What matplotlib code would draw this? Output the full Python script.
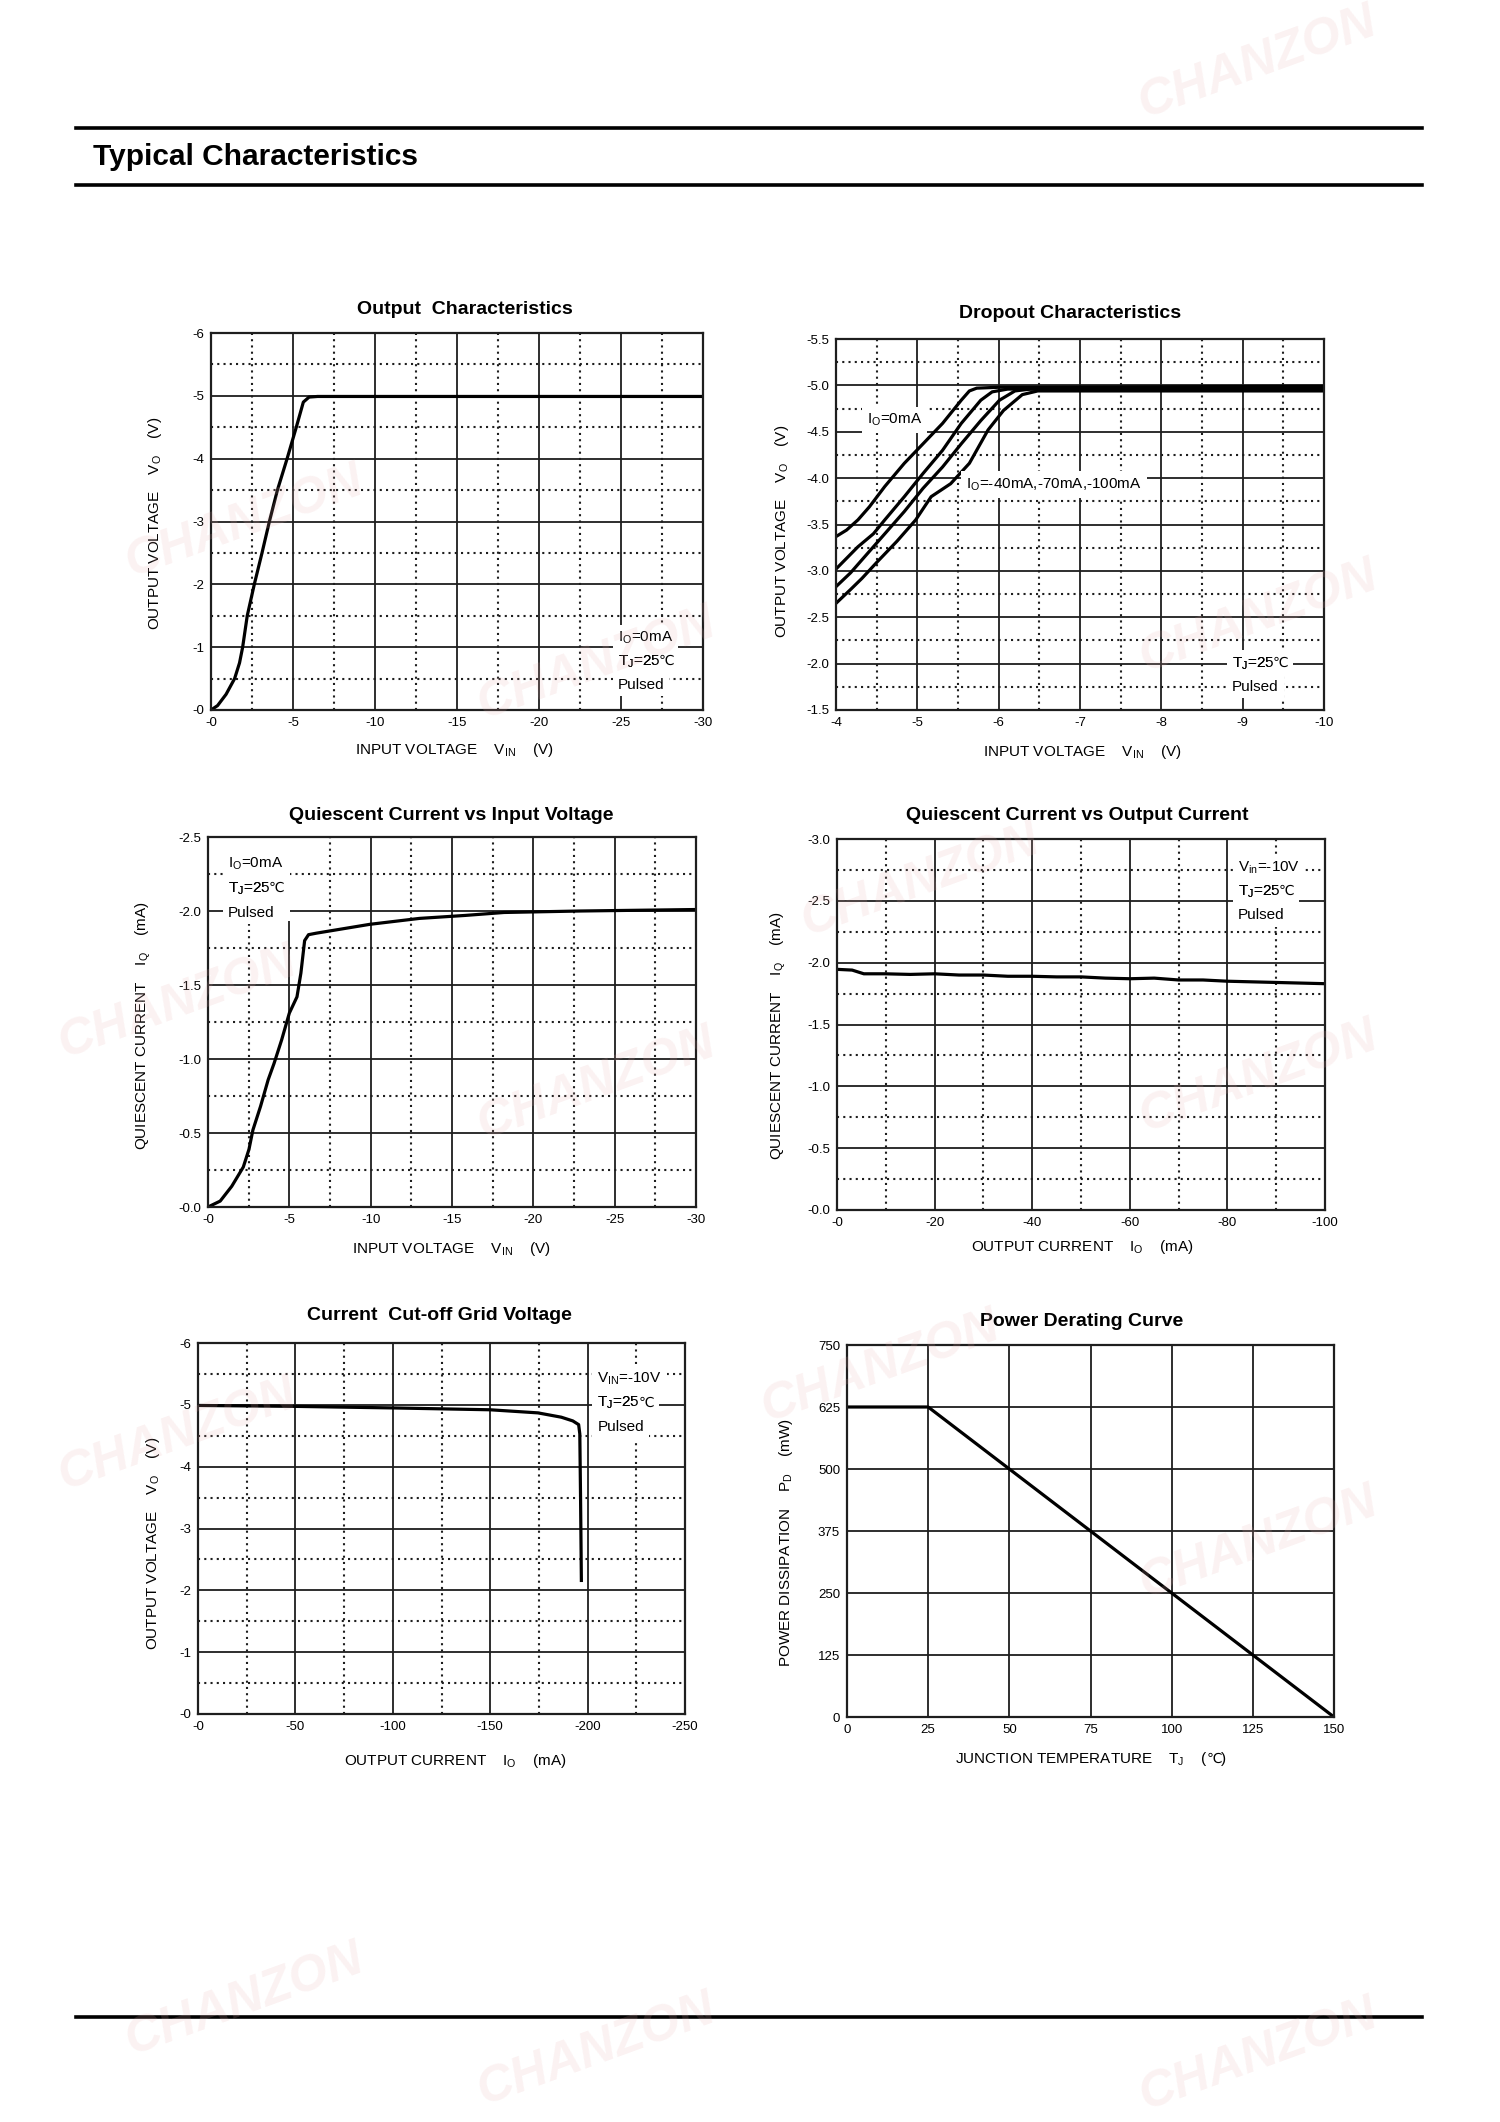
import matplotlib
matplotlib.use('Agg')
import matplotlib.pyplot as plt
from matplotlib.patches import Rectangle
from matplotlib.ticker import FixedLocator

# fonts: Arial-like text, DejaVu for the degree-Celsius sign
plt.rcParams['font.family'] = ['Liberation Sans', 'DejaVu Sans']
plt.rcParams['mathtext.fontset'] = 'custom'
plt.rcParams['mathtext.rm'] = 'Liberation Sans'
plt.rcParams['mathtext.it'] = 'Liberation Sans'
plt.rcParams['axes.unicode_minus'] = False

W, H = 1500, 2122

# ---------------- data ----------------
# Output Characteristics (Io = 0mA)
out_vin = [0, -0.4, -0.92, -1.44, -1.74, -1.93, -2.21, -2.64, -3.11, -3.56,
           -4.05, -4.64, -5.2, -5.63, -5.98, -6.5, -30]
out_vo = [0, -0.07, -0.25, -0.5, -0.75, -1.0, -1.5, -2.0, -2.5, -3.0,
          -3.5, -4.0, -4.5, -4.9, -4.98, -4.99, -4.99]

# Dropout Characteristics, four load currents
drop_vin_0 = [-4, -4.13, -4.27, -4.41, -4.6, -4.84, -5.07, -5.31, -5.54, -5.64, -5.73, -6.01, -10]
drop_vo_0 = [-3.37, -3.44, -3.55, -3.69, -3.91, -4.16, -4.37, -4.59, -4.84, -4.94, -4.97, -4.98, -4.99]
drop_vin_40 = [-4, -4.27, -4.46, -4.6, -4.84, -5.07, -5.31, -5.54, -5.78, -5.92, -6.11, -10]
drop_vo_40 = [-3.02, -3.26, -3.4, -3.55, -3.8, -4.05, -4.3, -4.59, -4.84, -4.93, -4.96, -4.97]
drop_vin_70 = [-4, -4.18, -4.37, -4.6, -4.84, -5.07, -5.31, -5.54, -5.78, -6.01, -6.2, -6.39, -10]
drop_vo_70 = [-2.83, -2.98, -3.17, -3.4, -3.64, -3.89, -4.12, -4.37, -4.62, -4.84, -4.94, -4.96, -4.96]
drop_vin_100 = [-4, -4.18, -4.32, -4.51, -4.75, -4.98, -5.17, -5.41, -5.64, -5.87, -6.06, -6.29, -6.48, -10]
drop_vo_100 = [-2.65, -2.8, -2.92, -3.1, -3.32, -3.55, -3.8, -3.94, -4.16, -4.52, -4.73, -4.9, -4.94, -4.94]

# Quiescent Current vs Input Voltage
qi_vin = [0, -0.75, -1.46, -2.17, -2.52, -2.76, -3.23, -3.7, -4.06, -4.53, -5.0,
          -5.47, -5.71, -5.94, -6.18, -6.65, -9.95, -13.0, -15.8, -18.2, -22.9, -30]
qi_iq = [0, -0.04, -0.14, -0.27, -0.39, -0.52, -0.68, -0.86, -0.97, -1.13, -1.31,
         -1.42, -1.58, -1.8, -1.84, -1.85, -1.91, -1.95, -1.97, -1.99, -2.0, -2.01]

# Quiescent Current vs Output Current
qo_io = [0, -3.1, -5.5, -9.8, -15, -20, -25, -30, -35, -40, -45, -50, -55, -60,
         -65, -70, -75, -80, -85, -90, -95, -100]
qo_iq = [-1.946, -1.94, -1.91, -1.91, -1.905, -1.91, -1.9, -1.9, -1.89, -1.89, -1.885, -1.885,
         -1.875, -1.87, -1.875, -1.86, -1.86, -1.85, -1.845, -1.84, -1.835, -1.83]

# Current Cut-off Grid Voltage
co_io = [0, -50, -100, -150, -174.5, -186.5, -192.4, -195.4, -196, -196.4, -196.8]
co_vo = [-4.99, -4.975, -4.95, -4.92, -4.87, -4.8, -4.74, -4.68, -4.53, -3.45, -2.16]

# Power Derating Curve
pd_tj = [0, 25, 150]
pd_mw = [625, 625, 0]

# tick labels
vin30_ticks = [0, -5, -10, -15, -20, -25, -30]
vin30_labels = ['-0', '-5', '-10', '-15', '-20', '-25', '-30']
vo6_ticks = [0, -1, -2, -3, -4, -5, -6]
vo6_labels = ['-0', '-1', '-2', '-3', '-4', '-5', '-6']
drop_x_ticks = [-4, -5, -6, -7, -8, -9, -10]
drop_x_labels = ['-4', '-5', '-6', '-7', '-8', '-9', '-10']
drop_y_ticks = [-1.5, -2.0, -2.5, -3.0, -3.5, -4.0, -4.5, -5.0, -5.5]
drop_y_labels = ['-1.5', '-2.0', '-2.5', '-3.0', '-3.5', '-4.0', '-4.5', '-5.0', '-5.5']
iq25_ticks = [0, -0.5, -1.0, -1.5, -2.0, -2.5]
iq25_labels = ['-0.0', '-0.5', '-1.0', '-1.5', '-2.0', '-2.5']
iq30_ticks = [0, -0.5, -1.0, -1.5, -2.0, -2.5, -3.0]
iq30_labels = ['-0.0', '-0.5', '-1.0', '-1.5', '-2.0', '-2.5', '-3.0']
io100_ticks = [0, -20, -40, -60, -80, -100]
io100_labels = ['-0', '-20', '-40', '-60', '-80', '-100']
io250_ticks = [0, -50, -100, -150, -200, -250]
io250_labels = ['-0', '-50', '-100', '-150', '-200', '-250']
tj_ticks = [0, 25, 50, 75, 100, 125, 150]
pd_ticks = [0, 125, 250, 375, 500, 625, 750]

DEG = '\u2103'
WHITE = dict(facecolor='white', edgecolor='none', pad=3.5)


def fx(x):
    return x / W


def fy(y):
    return 1 - y / H


def make_panel(box, xticks, xlabels, yticks, ylabels, xminor, yminor):
    l, r, t, b = box
    ax = fig.add_axes([fx(l), fy(b), (r - l) / W, (b - t) / H])
    ax.set_xlim(xticks[0], xticks[-1])
    ax.set_ylim(yticks[0], yticks[-1])
    ax.xaxis.set_major_locator(FixedLocator(xticks))
    ax.yaxis.set_major_locator(FixedLocator(yticks))
    ax.set_xticklabels(xlabels)
    ax.set_yticklabels(ylabels)
    ax.grid(which='major', color='#1e1e1e', lw=1.3)
    if xminor:
        ax.xaxis.set_minor_locator(FixedLocator(xminor))
        ax.yaxis.set_minor_locator(FixedLocator(yminor))
        ax.grid(which='minor', color='#1e1e1e', lw=1.5, ls=(0, (1, 2.0)))
    ax.tick_params(which='both', length=0, labelsize=9.5, pad=5)
    for s in ax.spines.values():
        s.set_linewidth(1.6)
        s.set_color('#1e1e1e')
    ax.set_axisbelow(True)
    return ax


def note(ax, x, y, lines, dy):
    # stacked annotation lines on a white background; a trailing degree sign
    # is drawn as its own piece in DejaVu Sans
    for i, s in enumerate(lines):
        yy = y + i * dy
        tail = s.endswith(DEG)
        txt = s[:-1] if tail else s
        kw = dict(xy=(x, yy), xytext=(0, -4), textcoords='offset points',
                  fontsize=11, ha='left', va='baseline')
        t = ax.annotate(txt, zorder=4.8, bbox=WHITE, **kw)
        if tail:
            ax.annotate(DEG, xy=(1, yy), xycoords=(t, 'data'), xytext=(-1.2, -4),
                        textcoords='offset points', fontsize=10, family='DejaVu Sans',
                        ha='left', va='baseline', zorder=4.9, bbox=WHITE)
            # redraw the main glyphs above the degree sign's white box
            ax.annotate(txt, zorder=5, **kw)


def halves(ticks):
    return [(a + b) / 2 for a, b in zip(ticks[:-1], ticks[1:])]


fig = plt.figure(figsize=(15, 21.22), dpi=100)

# header rules and title
for ry in (128, 185, 2017):
    fig.add_artist(plt.Line2D([fx(76), fx(1422)], [fy(ry), fy(ry)], color='black', lw=2.6))
fig.text(fx(93), fy(157), 'Typical Characteristics', fontsize=21.5, fontweight='bold',
         ha='left', va='center')

title_kw = dict(fontsize=14, fontweight='bold', ha='center', va='center')
label_kw = dict(fontsize=11, ha='center', va='center')
vin_label = 'INPUT VOLTAGE    V$_{\\rm IN}$    (V)'
vo_label = 'OUTPUT VOLTAGE    V$_{\\rm O}$    (V)'
iq_label = 'QUIESCENT CURRENT    I$_{\\rm Q}$    (mA)'
io_label = 'OUTPUT CURRENT    I$_{\\rm O}$    (mA)'
cond_3 = ['I$_{\\rm O}$=0mA', 'T$_{\\rm J}$=25' + DEG, 'Pulsed']

# 1. Output Characteristics
ax1 = make_panel((211, 703, 333, 710), vin30_ticks, vin30_labels, vo6_ticks, vo6_labels,
                 halves(vin30_ticks), halves(vo6_ticks))
ax1.plot(out_vin, out_vo, color='black', lw=2.3, solid_joinstyle='round')
note(ax1, -24.8, -1.17, cond_3, 0.37)
fig.text(fx(465), fy(309), 'Output  Characteristics', **title_kw)
fig.text(fx(454), fy(750), vin_label, **label_kw)
fig.text(fx(155), fy(523), vo_label, rotation=90, **label_kw)

# 2. Dropout Characteristics
ax2 = make_panel((836, 1324, 339, 710), drop_x_ticks, drop_x_labels,
                 drop_y_ticks, drop_y_labels, halves(drop_x_ticks), halves(drop_y_ticks))
for xs, ys in [(drop_vin_0, drop_vo_0), (drop_vin_40, drop_vo_40),
               (drop_vin_70, drop_vo_70), (drop_vin_100, drop_vo_100)]:
    ax2.plot(xs, ys, color='black', lw=2.3, solid_joinstyle='round')
note(ax2, -4.38, -4.65, ['I$_{\\rm O}$=0mA'], 0)
note(ax2, -5.6, -3.95, ['I$_{\\rm O}$=-40mA,-70mA,-100mA'], 0)
note(ax2, -8.87, -2.02, ['T$_{\\rm J}$=25' + DEG, 'Pulsed'], 0.25)
fig.text(fx(1070), fy(314), 'Dropout Characteristics', **title_kw)
fig.text(fx(1082), fy(752), vin_label, **label_kw)
fig.text(fx(782), fy(531), vo_label, rotation=90, **label_kw)

# 3. Quiescent Current vs Input Voltage
ax3 = make_panel((208, 696, 837, 1207), vin30_ticks, vin30_labels, iq25_ticks, iq25_labels,
                 halves(vin30_ticks), halves(iq25_ticks))
ax3.add_patch(Rectangle((-0.95, -2.5), -4.1, 0.57, facecolor='white', edgecolor='none', zorder=1.5))
ax3.plot(qi_vin, qi_iq, color='black', lw=2.3, solid_joinstyle='round')
note(ax3, -1.23, -2.33, cond_3, 0.165)
fig.text(fx(451), fy(816), 'Quiescent Current vs Input Voltage', **title_kw)
fig.text(fx(451), fy(1249), vin_label, **label_kw)
fig.text(fx(143), fy(1026), iq_label, rotation=90, **label_kw)

# 4. Quiescent Current vs Output Current
ax4 = make_panel((837, 1325, 839, 1210), io100_ticks, io100_labels, iq30_ticks, iq30_labels,
                 halves(io100_ticks), halves(iq30_ticks))
ax4.plot(qo_io, qo_iq, color='black', lw=2.3, solid_joinstyle='round')
note(ax4, -82.2, -2.78, ['V$_{\\rm in}$=-10V', 'T$_{\\rm J}$=25' + DEG, 'Pulsed'], 0.19)
fig.text(fx(1077), fy(815), 'Quiescent Current vs Output Current', **title_kw)
fig.text(fx(1082), fy(1247), io_label, **label_kw)
fig.text(fx(778), fy(1036), iq_label, rotation=90, **label_kw)

# 5. Current Cut-off Grid Voltage
ax5 = make_panel((198, 685, 1343, 1714), io250_ticks, io250_labels, vo6_ticks, vo6_labels,
                 halves(io250_ticks), halves(vo6_ticks))
ax5.plot(co_io, co_vo, color='black', lw=2.3, solid_joinstyle='round')
note(ax5, -205, -5.45, ['V$_{\\rm IN}$=-10V', 'T$_{\\rm J}$=25' + DEG, 'Pulsed'], 0.395)
fig.text(fx(439), fy(1315), 'Current  Cut-off Grid Voltage', **title_kw)
fig.text(fx(455), fy(1761), io_label, **label_kw)
fig.text(fx(153), fy(1543), vo_label, rotation=90, **label_kw)

# 6. Power Derating Curve
ax6 = make_panel((847, 1334, 1345, 1717), tj_ticks, [str(v) for v in tj_ticks],
                 pd_ticks, [str(v) for v in pd_ticks], None, None)
ax6.plot(pd_tj, pd_mw, color='black', lw=2.3, solid_joinstyle='round')
fig.text(fx(1082), fy(1322), 'Power Derating Curve', **title_kw)
fig.text(fx(786), fy(1542), 'POWER DISSIPATION    P$_{\\rm D}$    (mW)', rotation=90, **label_kw)
# x label in three pieces so the degree sign can come from DejaVu Sans
p1 = fig.text(fx(955), fy(1763), 'JUNCTION TEMPERATURE    T$_{\\rm J}$    (',
              fontsize=11, ha='left', va='baseline')
p2 = ax6.annotate(DEG, xy=(1, fy(1763)), xycoords=(p1, 'figure fraction'),
                  xytext=(-1.0, 0), textcoords='offset points',
                  fontsize=10, family='DejaVu Sans', ha='left', va='baseline',
                  annotation_clip=False)
ax6.annotate(')', xy=(1, fy(1763)), xycoords=(p2, 'figure fraction'),
             xytext=(-0.5, 0), textcoords='offset points',
             fontsize=11, ha='left', va='baseline', annotation_clip=False)

# faint watermark
for wx, wy in [(1258, 63), (245, 522), (597, 664), (1259, 617), (178, 1003), (921, 881),
               (597, 1084), (1259, 1077), (178, 1435), (881, 1367), (1259, 1543),
               (245, 2000), (597, 2050), (1259, 2055)]:
    fig.text(fx(wx), fy(wy), 'CHANZON', fontsize=36, fontweight='bold', fontstyle='italic',
             color='#e8b0b0', alpha=0.16, rotation=20, ha='center', va='center', zorder=10)

fig.savefig('out.png', dpi=100, facecolor='white')
